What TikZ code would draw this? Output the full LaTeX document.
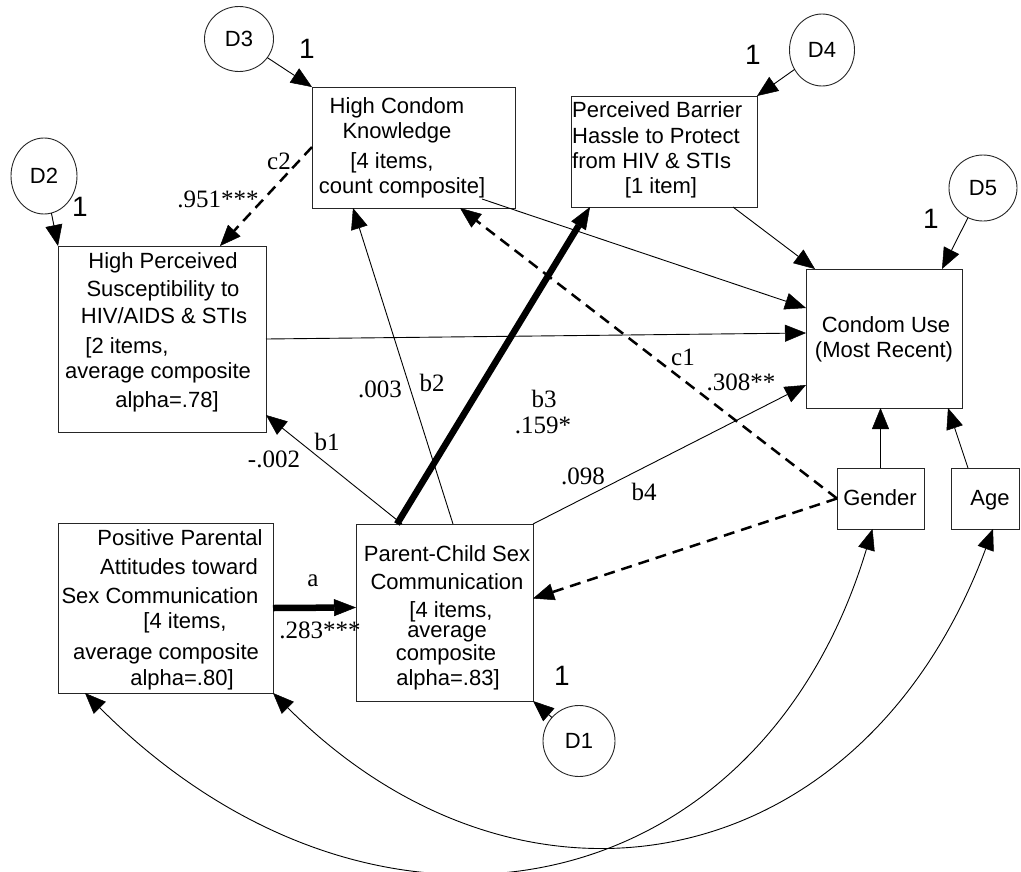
\documentclass[tikz,border=0pt]{standalone}
\usepackage{fontspec}
\setmainfont{Liberation Sans}
\newfontfamily\serifnum{Liberation Serif}
\usetikzlibrary{arrows.meta,shapes.geometric}
\begin{document}
\begin{tikzpicture}[x=1pt,y=-1pt,
  box/.style={draw=black!85,line width=0.9pt,inner sep=0,outer sep=0},
  dcirc/.style={ellipse,draw=black!85,line width=0.9pt,inner sep=0,outer sep=0,font=\fontsize{22}{26}\selectfont},
  txt/.style={inner sep=0,anchor=base,font=\fontsize{22}{26}\selectfont},
  txtl/.style={inner sep=0,anchor=base west,font=\fontsize{22}{26}\selectfont},
  lab/.style={inner sep=0,anchor=base,font=\serifnum\fontsize{25}{28}\selectfont},
  one/.style={inner sep=0,anchor=base,font=\fontsize{28}{32}\selectfont},
  conn/.style={line width=0.9pt,-{Triangle[length=21pt,width=17pt,line width=0.5pt]}},
  dconn/.style={line width=2.5pt,dash pattern=on 11pt off 7pt,-{Triangle[length=21pt,width=17pt,line width=0.5pt]}},
  tconn/.style={line width=6.5pt,-{Triangle[length=22pt,width=17pt,line width=0.5pt]}},
  cov/.style={line width=0.9pt,{Triangle[length=21pt,width=17pt,line width=0.5pt]}-{Triangle[length=21pt,width=17pt,line width=0.5pt]}}
]
\useasboundingbox (0,0) rectangle (1021,871);

% boxes
\node[box,minimum width=203pt,minimum height=121pt] (hck) at (413.5,147.5) {};
\node[box,minimum width=208pt,minimum height=186pt] (hps) at (162,339) {};
\node[box,minimum width=186pt,minimum height=111pt] (pbh) at (664,151.5) {};
\node[box,minimum width=156pt,minimum height=139pt] (cu) at (884,338.5) {};
\node[box,minimum width=215pt,minimum height=170pt] (ppa) at (165.5,608) {};
\node[box,minimum width=177pt,minimum height=177pt] (pcsc) at (444.5,612.5) {};
\node[box,minimum width=87pt,minimum height=61pt] (gender) at (880.5,498.5) {};
\node[box,minimum width=68pt,minimum height=61pt] (age) at (985,498.5) {};

% disturbances
\node[dcirc,minimum width=69pt,minimum height=65pt] (d3) at (239,39) {D3};
\node[dcirc,minimum width=66pt,minimum height=76pt] (d2) at (44,176) {D2};
\node[dcirc,minimum width=65pt,minimum height=72pt] (d4) at (822,50) {D4};
\node[dcirc,minimum width=68pt,minimum height=66pt] (d5) at (983,188) {D5};
\node[dcirc,minimum width=72pt,minimum height=71pt] (d1) at (579,741) {D1};

% box texts
\foreach \xx/\yy/\tx [count=\i] in {397/113/{High Condom},397/138/{Knowledge},392/168/{[4 items,},402/193/{count composite]}}
  \node[txt] (hckt\i) at (\xx,\yy) {\tx};
\foreach \xx/\yy/\tx [count=\i] in {163/268/{High Perceived},163/296/{Susceptibility to},164/323/{HIV/AIDS \& STIs},127/353/{[2 items,},158/378/{average composite},167/407/{alpha=.78]}}
  \node[txt] (hpst\i) at (\xx,\yy) {\tx};
\foreach \yy/\tx [count=\i] in {117/{Perceived Barrier},143/{Hassle to Protect},168/{from HIV \& STIs}}
  \node[txtl] (pbht\i) at (572,\yy) {\tx};
\node[txt] (pbht4) at (661,193) {[1 item]};
\node[txt] (cut1) at (886,332) {Condom Use};
\node[txt] (cut2) at (884,357) {(Most Recent)};
\foreach \xx/\yy/\tx [count=\i] in {180/545/{Positive Parental},179/574/{Attitudes toward},160/603/{Sex Communication},185/628/{[4 items,},166/659/{average composite},182/685/{alpha=.80]}}
  \node[txt] (ppat\i) at (\xx,\yy) {\tx};
\foreach \xx/\yy/\tx [count=\i] in {447/561/{Parent-Child Sex},447/589/{Communication},451/617/{[4 items,},447/637/{average},446/660/{composite},448/685/{alpha=.83]}}
  \node[txt] (pcsct\i) at (\xx,\yy) {\tx};
\node[txt] (gendert) at (880,505) {Gender};
\node[txt] (aget) at (990,505) {Age};

% fixed loadings
\node[one] (o3) at (307,58) {1};
\node[one] (o2) at (80,216) {1};
\node[one] (o4) at (753,64) {1};
\node[one] (o5) at (931,228) {1};
\node[one] (o1) at (562,685) {1};

% connectors
\draw[conn] (d3) -- (hck.north west);
\draw[conn] (d2) -- (hps.north west);
\draw[conn] (d4) -- (pbh.north east);
\draw[conn] (d5) -- ([xshift=-20pt]cu.north east);
\draw[conn] (d1) -- (pcsc.south east);
\draw[dconn] ([yshift=-60pt]hck.north west) -- ([xshift=162pt]hps.north west);
\draw[conn] ([xshift=-33pt,yshift=9pt]hck.south east) -- ([yshift=-39pt]cu.north west);
\draw[conn] (hps.east) -- ([yshift=5.5pt]cu.west);
\draw[conn] ([xshift=-24pt]pbh.south east) -- ([xshift=9pt]cu.north west);
\draw[conn] (pcsc.north east) -- ([yshift=23pt]cu.south west);
\draw[tconn] ([xshift=41pt]pcsc.north west) -- ([xshift=19pt]pbh.south west);
\draw[conn] ([xshift=46pt]pcsc.north west) -- ([yshift=17pt]hps.south east);
\draw[conn] ([xshift=97pt]pcsc.north west) -- ([xshift=41pt]hck.south west);
\draw[tconn] (ppa.east) -- ([yshift=5pt]pcsc.west);
\draw[dconn] (gender.west) -- ([xshift=-55pt]hck.south east);
\draw[dconn] (gender.west) -- ([yshift=14pt]pcsc.east);
\draw[conn] (gender.north) -- (gender.north |- cu.south);
\draw[conn] ([xshift=-17pt]age.north) -- ([xshift=-14pt]cu.south east);
\draw[cov] ([xshift=27pt]ppa.south west) .. controls (375,983) and (758,909) .. ([xshift=-8pt]gender.south);
\draw[cov] (ppa.south east) .. controls (523,943) and (863,879) .. ([xshift=8pt]age.south);

% path labels
\node[lab] (lc2) at (279,169) {c2};
\node[lab] (lc2v) at (218,207) {.951***};
\node[lab] (lb2v) at (380,397) {.003};
\node[lab] (lb2) at (432,391) {b2};
\node[lab] (lb1) at (327,450) {b1};
\node[lab] (lb1v) at (274,467) {-.002};
\node[lab] (lb3) at (544,407) {b3};
\node[lab] (lb3v) at (543,433) {.159*};
\node[lab] (lc1) at (683,365) {c1};
\node[lab] (lc1v) at (741,390) {.308**};
\node[lab] (lb4v) at (583,484) {.098};
\node[lab] (lb4) at (644,500) {b4};
\node[lab] (la) at (313,586) {a};
\node[lab] (lav) at (320,638) {.283***};
\end{tikzpicture}
\end{document}
